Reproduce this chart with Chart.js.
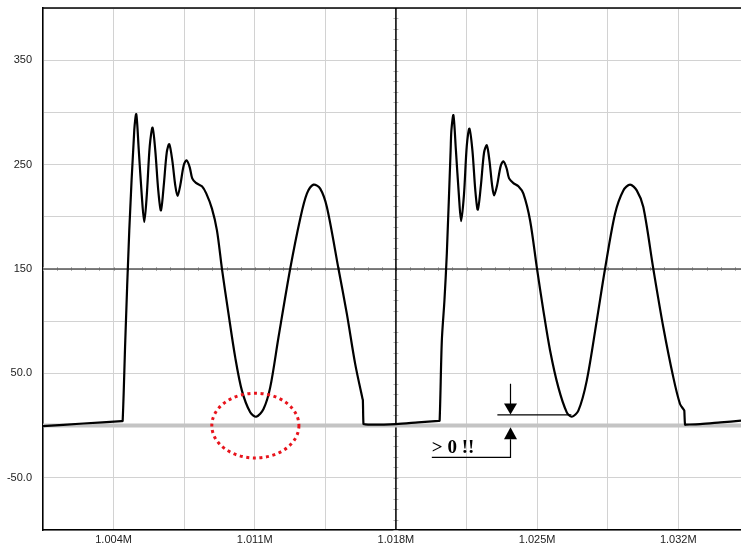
<!DOCTYPE html>
<html>
<head>
<meta charset="utf-8">
<script src="https://cdn.jsdelivr.net/npm/chart.js@4.4.1/dist/chart.umd.min.js"></script>
<style>
  html, body { margin: 0; padding: 0; background: #fff; }
  #wrap { width: 741px; height: 546px; }
</style>
</head>
<body>
<div id="wrap"><canvas id="scope"></canvas></div>
<script>
// waveform (x in samples, y in output units)
const waveX = [
  1000500, 1002500, 1004400, 1004450, 1004580, 1004778, 1005026, 1005125, 1005249, 1005398, 1005521, 1005645,
  1005794, 1005933, 1006067, 1006215, 1006349, 1006488, 1006637, 1006760, 1006909, 1007058,
  1007172, 1007306, 1007479, 1007618, 1007776, 1007900, 1008084, 1008381, 1008594, 1008877,
  1009125, 1009373, 1009699, 1010031, 1010363, 1010775, 1011072, 1011434, 1011766, 1012177,
  1012757, 1013253, 1013585, 1013912, 1014244, 1014576, 1015151, 1015567, 1015979, 1016340, 1016360,
  1016390, 1016430, 1016722, 1017996, 1019100, 1020120, 1020167,
  1020276, 1020405, 1020523, 1020712, 1020751, 1020850, 1020974, 1021122, 1021232, 1021371,
  1021514, 1021643, 1021792, 1021936, 1022060, 1022213, 1022372, 1022506, 1022635, 1022769,
  1022868, 1023016, 1023190, 1023328, 1023487, 1023611, 1023824, 1024072, 1024320, 1024652,
  1024984, 1025311, 1025643, 1026054, 1026471, 1026719, 1027046, 1027462, 1027958, 1028369,
  1028865, 1029276, 1029608, 1029940, 1030267, 1030762, 1031258, 1031754, 1032086, 1032280, 1032299,
  1032334, 1032380, 1033077, 1034100, 1035110
];
const waveY = [
  -0.5, 2, 4.3, 4.4, 81.4, 187, 283, 298.2, 263.7, 220.5, 195, 220.5,
  268, 285.5, 263.7, 225.3, 206.1, 230.1, 261.8, 269.5, 254.2, 230.1,
  219.9, 230.1, 249.3, 254.1, 247.4, 236.8, 232.5, 229.2, 222.4, 207.8,
  187, 150.2, 107, 65.4, 33.5, 12.7, 8.5, 15.9, 36.6, 84.6,
  150.2, 198.2, 222.2, 230.8, 227, 209.3, 150.2, 107, 59.1, 26, 24.6,
  1.5, 1.3, 0.9, 1.5, 3.1, 4.6, 4.7,
  81.4, 119.8, 164.6, 263.7, 283, 297.2, 263.7, 220.5, 195.9, 220.5,
  268.2, 284.5, 263.7, 225.3, 206.8, 230.1, 261.8, 268.5, 254.1, 230.1,
  220.5, 230.1, 248.3, 253.2, 246.5, 236.8, 232.3, 229.2, 222.2, 196.5,
  151.8, 110.2, 72, 36.6, 12.7, 8.5, 14.3, 43.1, 100.6, 150.2,
  203, 225.3, 230.8, 225.3, 209.3, 150.2, 94.2, 46.2, 20.7, 15, 14.3,
  0.9, 0.9, 1.5, 3.1, 4.7
];

// zero reference line
const zeroX = [1000500, 1035110];
const zeroY = [0, 0];

// axes
const xMin = 1000500;
const xMax = 1035110;
const xGridValues = [1000500, 1004000, 1007500, 1011000, 1014500, 1018000, 1021500, 1025000, 1028500, 1032000];
const xTickValues = [1004000, 1011000, 1018000, 1025000, 1032000];
const xTickText = ['1.004M', '1.011M', '1.018M', '1.025M', '1.032M'];
const yMin = -100;
const yMax = 400;
const yTickValues = [-50, 50, 150, 250, 350];
const yTickText = ['-50.0', '50.0', '150', '250', '350'];

// crosshair through the centre of the screen
const centerX = 1018000;
const centerY = 150;

function toPoints(xs, ys) {
  return xs.map((x, i) => ({ x: x, y: ys[i] }));
}

const overlay = {
  id: 'overlay',
  beforeDatasetsDraw(chart) {
    const { ctx, chartArea: a, scales } = chart;
    const cx = scales.x.getPixelForValue(centerX);
    const cy = scales.y.getPixelForValue(centerY);
    ctx.save();
    // small ticks along the centre lines
    ctx.strokeStyle = '#b4b4b4';
    ctx.lineWidth = 1;
    ctx.beginPath();
    for (let v = yMin; v <= yMax; v += 10) {
      const py = Math.round(scales.y.getPixelForValue(v)) + 0.5;
      ctx.moveTo(cx - 2.5, py);
      ctx.lineTo(cx + 2.5, py);
    }
    for (let v = xMin; v <= xMax; v += 700) {
      const px = Math.round(scales.x.getPixelForValue(v)) + 0.5;
      ctx.moveTo(px, cy - 2);
      ctx.lineTo(px, cy + 2);
    }
    ctx.stroke();
    ctx.lineWidth = 1.5;
    ctx.strokeStyle = '#555';
    ctx.beginPath();
    ctx.moveTo(a.left, cy);
    ctx.lineTo(a.right, cy);
    ctx.stroke();
    ctx.strokeStyle = '#000';
    ctx.beginPath();
    ctx.moveTo(cx, a.top);
    ctx.lineTo(cx, a.bottom);
    ctx.stroke();
    ctx.restore();
  },
  afterDatasetsDraw(chart) {
    const { ctx, chartArea: a, scales } = chart;
    const X = (v) => scales.x.getPixelForValue(v);
    const Y = (v) => scales.y.getPixelForValue(v);
    ctx.save();

    // top frame line
    ctx.strokeStyle = '#000';
    ctx.lineWidth = 1.5;
    ctx.beginPath();
    ctx.moveTo(a.left, a.top);
    ctx.lineTo(a.right, a.top);
    ctx.stroke();

    // red dotted ellipse round the first minimum
    ctx.strokeStyle = '#e8141c';
    ctx.lineWidth = 3;
    ctx.setLineDash([3, 3.6]);
    ctx.beginPath();
    ctx.ellipse(X(1011030), Y(0), X(1013190) - X(1011030), Y(0) - Y(31), 0, 0, Math.PI * 2);
    ctx.stroke();
    ctx.setLineDash([]);

    // "> 0 !!" dimension arrows at the second minimum
    const ax = Math.round(X(1023660)) + 0.5;
    ctx.strokeStyle = '#000';
    ctx.fillStyle = '#000';
    ctx.lineWidth = 1.2;
    ctx.beginPath();
    ctx.moveTo(X(1023030), Y(10.2));
    ctx.lineTo(X(1026700), Y(10.2));
    ctx.moveTo(ax, Y(40));
    ctx.lineTo(ax, Y(20));
    ctx.moveTo(ax, Y(-13));
    ctx.lineTo(ax, Y(-30.5));
    ctx.lineTo(X(1019780), Y(-30.5));
    ctx.stroke();
    const tipDown = Y(10.6);
    ctx.beginPath();
    ctx.moveTo(ax, tipDown);
    ctx.lineTo(ax - 6.5, tipDown - 11);
    ctx.lineTo(ax + 6.5, tipDown - 11);
    ctx.closePath();
    ctx.fill();
    const tipUp = Y(-1.7);
    ctx.beginPath();
    ctx.moveTo(ax, tipUp);
    ctx.lineTo(ax - 6.5, tipUp + 12);
    ctx.lineTo(ax + 6.5, tipUp + 12);
    ctx.closePath();
    ctx.fill();
    ctx.font = 'bold 19px "Liberation Serif", "Times New Roman", serif';
    ctx.textAlign = 'left';
    ctx.textBaseline = 'alphabetic';
    ctx.fillText('> 0 !!', X(1019780), Y(-26.3));
    ctx.restore();
  }
};

new Chart(document.getElementById('scope'), {
  type: 'line',
  data: {
    datasets: [
      {
        label: 'out',
        data: toPoints(waveX, waveY),
        borderColor: '#000',
        borderWidth: 2.2,
        pointRadius: 0,
        tension: 0.3,
        order: 0,
      },
      {
        label: 'zero',
        data: toPoints(zeroX, zeroY),
        borderColor: '#c4c4c4',
        borderWidth: 4,
        pointRadius: 0,
        order: 1,
      },
    ],
  },
  options: {
    responsive: true,
    maintainAspectRatio: false,
    animation: false,
    layout: { padding: 0 },
    plugins: { legend: { display: false }, tooltip: { enabled: false } },
    scales: {
      x: {
        type: 'linear',
        min: xMin,
        max: xMax,
        afterBuildTicks: (scale) => {
          scale.ticks = xGridValues.map((v) => ({ value: v }));
        },
        afterFit: (scale) => { scale.height = 16; },
        grid: { color: '#d2d2d2', lineWidth: 1, drawTicks: false },
        border: { color: '#000', width: 1.5 },
        ticks: {
          padding: 3,
          maxRotation: 0,
          autoSkip: false,
          color: '#222',
          font: { family: '"Liberation Sans", Arial, sans-serif', size: 11 },
          callback: (v) => {
            const i = xTickValues.indexOf(v);
            return i >= 0 ? xTickText[i] : '';
          },
        },
      },
      y: {
        min: yMin,
        max: yMax,
        afterFit: (scale) => {
          scale.width = 43;
          scale.paddingTop = 8;
          scale.paddingBottom = 0;
        },
        grid: { color: '#d2d2d2', lineWidth: 1, drawTicks: false },
        border: { color: '#000', width: 1.5 },
        ticks: {
          stepSize: 50,
          padding: 11,
          color: '#222',
          font: { family: '"Liberation Sans", Arial, sans-serif', size: 11 },
          callback: (v) => {
            const i = yTickValues.indexOf(v);
            return i >= 0 ? yTickText[i] : '';
          },
        },
      },
    },
  },
  plugins: [overlay],
});
</script>
</body>
</html>
